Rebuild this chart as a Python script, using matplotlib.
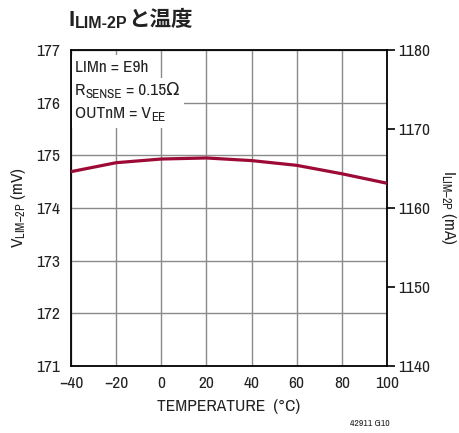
import matplotlib
matplotlib.use("Agg")
import matplotlib.pyplot as plt
from matplotlib import font_manager
from matplotlib.patches import Rectangle

# ---- data ----
temperature = [-40, -20, 0, 20, 40, 60, 80, 100]
vlim_mv = [174.69, 174.86, 174.93, 174.95, 174.90, 174.81, 174.65, 174.47]
x_ticks = [-40, -20, 0, 20, 40, 60, 80, 100]
left_ticks = [171, 172, 173, 174, 175, 176, 177]
right_ticks = [1140, 1150, 1160, 1170, 1180]
# each note line: list of (text, is_subscript)
notes = [
    [("LIMn = E9h", False)],
    [("R", False), ("SENSE", True), (" = 0.15Ω", False)],
    [("OUTnM = V", False), ("EE", True)],
]

# ---- font selection: a condensed sans if available ----
fonts = font_manager.fontManager.ttflist
names = {f.name for f in fonts}


def has_bold(name):
    for f in fonts:
        if f.name == name:
            w = f.weight
            try:
                w = int(w)
            except Exception:
                w = 700 if str(w).lower() in ("bold", "heavy", "black", "demibold", "semibold") else 400
            if w >= 600:
                return True
    return False


FONT = "Liberation Sans"
if "Liberation Sans Narrow" in names:
    FONT = "Liberation Sans Narrow"
else:
    cands = sorted(n for n in names if ("Narrow" in n or "Condensed" in n))
    if cands:
        FONT = cands[0]
TITLE_FONT = FONT if has_bold(FONT) else "Liberation Sans"

plt.rcParams["font.family"] = [FONT, "DejaVu Sans"]
plt.rcParams["mathtext.fontset"] = "custom"
plt.rcParams["mathtext.rm"] = FONT
plt.rcParams["mathtext.it"] = FONT
plt.rcParams["mathtext.bf"] = FONT
plt.rcParams["axes.unicode_minus"] = True
FAM = [FONT, "DejaVu Sans"]
TXT = "#222222"

W, H = 459, 433
fig = plt.figure(figsize=(W / 100, H / 100), dpi=100)
ax = fig.add_axes([71 / W, 1 - 366 / H, 316 / W, 316 / H])

ax.set_xlim(-40, 100)
ax.set_ylim(171, 177)
ax.set_xticks(x_ticks)
ax.set_yticks(left_ticks)
ax.grid(True, color="#8a8a8a", lw=1.0, zorder=0)
ax.set_axisbelow(True)
ax.tick_params(axis="both", length=0, labelsize=12.5, colors=TXT)
ax.tick_params(axis="x", pad=7)
ax.tick_params(axis="y", pad=8)
for s in ax.spines.values():
    s.set_linewidth(1.3)
    s.set_color("black")

ax.plot(temperature, vlim_mv, color="#9c0a35", lw=2.3, zorder=3, solid_capstyle="butt")

ax2 = ax.twinx()
ax2.set_ylim(1140, 1180)
ax2.set_yticks(right_ticks)
ax2.tick_params(axis="y", direction="out", length=6, width=1.2, pad=2, labelsize=12.5,
                colors="black", labelcolor=TXT)
for s in ax2.spines.values():
    s.set_visible(False)

ax.set_xlabel("TEMPERATURE  (°C)", fontsize=12.5, color=TXT, labelpad=6)
ax.set_ylabel(r"V$_{\mathregular{LIM–2P}}$ (mV)", fontsize=12.5, color=TXT, labelpad=6)
ax2.set_ylabel(r"I$_{\mathregular{LIM–2P}}$ (mA)", fontsize=12.5, color=TXT, rotation=-90, labelpad=20)


def chain(pieces, x0, y0, base_kw):
    """Place text pieces one after another; returns list of artists."""
    arts = []
    prev = None
    for text, dy, kw in pieces:
        k = dict(base_kw)
        k.update(kw)
        if prev is None:
            a = fig.text(x0, y0 - dy, text, transform=None, va="baseline", ha="left", **k)
        else:
            a = fig.text(0, 0, text, va="baseline", ha="left", **k)
            a._chain = (prev, y0 - dy)
        arts.append(a)
        prev = a
    return arts


def layout(arts):
    r = fig.canvas.get_renderer()
    for a in arts:
        if hasattr(a, "_chain"):
            prev, y = a._chain
            bb = prev.get_window_extent(r)
            a.set_transform(matplotlib.transforms.IdentityTransform())
            a.set_position((bb.x1 + getattr(a, "_gap", 0), y))


# notes
note_baselines = [71.5, 95, 118]
note_lines = []
for line, yb in zip(notes, note_baselines):
    pieces = []
    for t, sub in line:
        if sub:
            pieces.append((t, 3, dict(fontsize=9.5)))
        else:
            pieces.append((t, 0, dict(fontsize=12.5)))
    arts = chain(pieces, 75, H - yb, dict(color=TXT, family=FAM, zorder=6))
    note_lines.append(arts)

# title
title_arts = chain([("I", 0, dict(fontsize=16)),
                    ("LIM-2P", 1.5, dict(fontsize=11.5)),
                    ("と温度", 0, dict(fontsize=15.5, family=["Noto Sans CJK JP", "DejaVu Sans"]))],
                   68, H - 26, dict(color=TXT, fontweight="bold", family=[TITLE_FONT, "DejaVu Sans"]))
title_arts[1]._gap = 1
title_arts[2]._gap = 0

fig.canvas.draw()
for arts in note_lines:
    layout(arts)
layout(title_arts)
fig.canvas.draw()

# white backgrounds behind each note line
r = fig.canvas.get_renderer()
pad = 5
for arts in note_lines:
    bbs = [a.get_window_extent(r) for a in arts]
    x0 = min(b.x0 for b in bbs) - pad
    x1 = max(b.x1 for b in bbs) + pad
    y0 = min(b.y0 for b in bbs) - pad
    y1 = max(b.y1 for b in bbs) + pad
    x0 = max(x0, 72)
    fig.patches.append(Rectangle((x0, y0), x1 - x0, y1 - y0, transform=None,
                                 facecolor="white", edgecolor="none", zorder=5))

fig.text(390 / W, 1 - 424 / H, "42911 G10", fontsize=7, color=TXT, ha="right", va="center")

fig.savefig("out.png", dpi=100)
